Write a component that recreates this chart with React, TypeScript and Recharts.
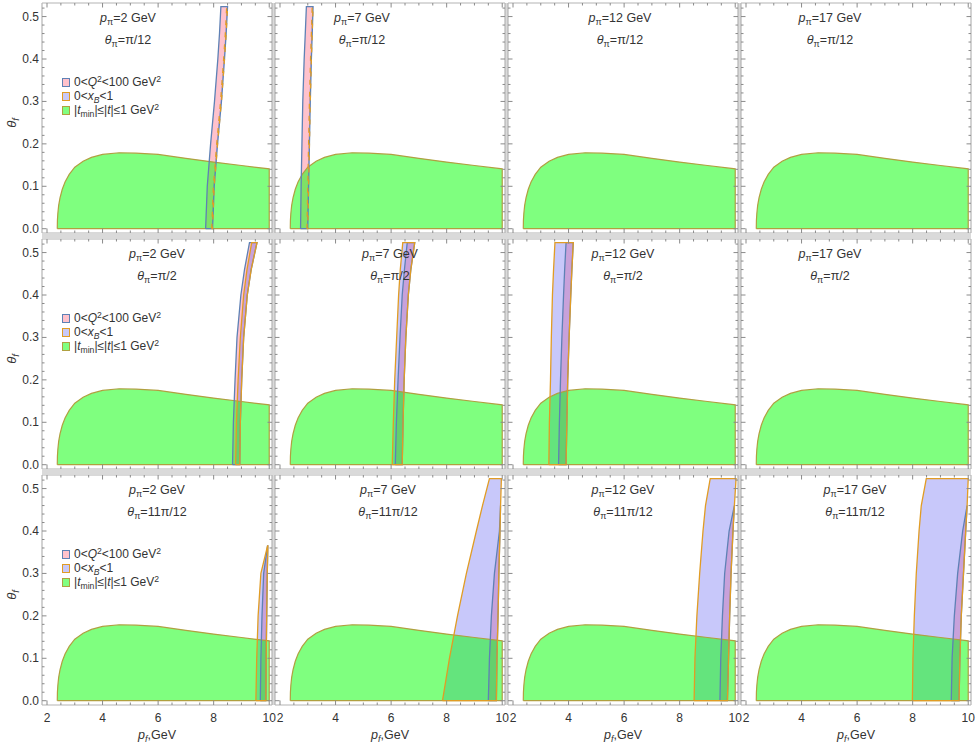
import React from "react";
import { ComposedChart, Area, Line, XAxis, YAxis } from "recharts";

// panel parameters (columns: pion momentum, rows: pion angle)
const P_PI = ["2", "7", "12", "17"];
const THETA_PI = ["π/12", "π/2", "11π/12"];

// |t_min| ≤ |t| ≤ 1 GeV²: upper edge θ_f vs p_f, the same in every panel
const greenP = [2.37, 2.375, 2.39, 2.42, 2.47, 2.55, 2.65, 2.8, 3.0, 3.3, 3.6, 4.0, 4.6, 5.2, 6.0, 7.0, 8.0, 9.0, 10, 10];
const greenTop = [0, 0.02, 0.036, 0.055, 0.073, 0.093, 0.11, 0.128, 0.145, 0.159, 0.168, 0.175, 0.179, 0.178, 0.175, 0.166, 0.157, 0.149, 0.141, 0];

// θ_f samples of the band edges
const bandTh = [0, 0.1, 0.2, 0.3, 0.4, 0.46, 0.5236];
const bandThShort = [0, 0.1, 0.2, 0.3, 0.365];
const bandThOf: Record<string, number[]> = { "2-0": bandThShort };

// right edge shared by both bands (p_f in GeV), key "row-col"
const bandHi: Record<string, number[]> = {
  "0-0": [7.96, 8.02, 8.14, 8.28, 8.39, 8.45, 8.5],
  "0-1": [3.0, 3.03, 3.06, 3.09, 3.13, 3.16, 3.19],
  "1-0": [8.94, 8.96, 9.01, 9.08, 9.21, 9.35, 9.56],
  "1-1": [6.4, 6.43, 6.47, 6.53, 6.62, 6.71, 6.85],
  "1-2": [3.91, 3.94, 3.97, 4.02, 4.08, 4.12, 4.17],
  "2-0": [9.88, 9.89, 9.91, 9.93, 9.95],
  "2-1": [9.79, 9.81, 9.85, 9.88, 9.92, 9.94, 9.97],
  "2-2": [9.72, 9.76, 9.8, 9.85, 9.92, 9.97, 10.03],
  "2-3": [9.67, 9.7, 9.75, 9.83, 9.91, 9.96, 10.0],
};

// left edge of 0 < x_B < 1
const xbLo: Record<string, number[]> = {
  "0-0": [7.93, 7.99, 8.11, 8.25, 8.36, 8.42, 8.47],
  "0-1": [2.97, 3.0, 3.03, 3.06, 3.1, 3.13, 3.16],
  "1-0": [8.79, 8.82, 8.88, 8.96, 9.08, 9.2, 9.37],
  "1-1": [6.04, 6.08, 6.13, 6.2, 6.27, 6.33, 6.42],
  "1-2": [3.29, 3.31, 3.35, 3.38, 3.42, 3.46, 3.51],
  "2-0": [9.52, 9.55, 9.6, 9.7, 9.94],
  "2-1": [7.85, 8.1, 8.39, 8.71, 9.07, 9.29, 9.54],
  "2-2": [8.52, 8.55, 8.62, 8.72, 8.84, 8.93, 9.1],
  "2-3": [7.99, 8.01, 8.06, 8.13, 8.23, 8.31, 8.49],
};

// left edge of 0 < Q² < 100 GeV² (null once the band has closed)
const q2Lo: Record<string, (number | null)[]> = {
  "0-0": [7.71, 7.77, 7.89, 8.03, 8.15, 8.21, 8.26],
  "0-1": [2.74, 2.76, 2.79, 2.82, 2.87, 2.91, 2.95],
  "1-0": [8.68, 8.71, 8.77, 8.84, 8.98, 9.11, 9.29],
  "1-1": [6.15, 6.19, 6.25, 6.32, 6.4, 6.48, 6.58],
  "1-2": [3.64, 3.67, 3.71, 3.76, 3.82, 3.86, 3.91],
  "2-0": [9.68, 9.7, 9.74, 9.8, 9.94],
  "2-1": [9.5, 9.54, 9.61, 9.72, 9.9, 9.94, null],
  "2-2": [9.45, 9.48, 9.54, 9.62, 9.78, 9.97, null],
  "2-3": [9.39, 9.42, 9.5, 9.62, 9.8, 9.96, null],
};

const X_MAJOR = [2, 4, 6, 8, 10];
const Y_MAJOR = [0, 0.1, 0.2, 0.3, 0.4, 0.5];
const xTicks = Array.from({ length: 17 }, (_, i) => 2 + i * 0.5);
const yTicks = Array.from({ length: 27 }, (_, i) => +(i * 0.02).toFixed(2));

// title centre offsets inside each frame (px)
const TITLE_X = [
  [86, 87, 112, 89],
  [115, 115, 115, 89],
  [115, 113, 115, 114],
];

const FRAME = 230;
const COL_X = [42, 275, 508, 741];
const ROW_Y = [3, 239, 475];
const MARGIN = { top: 6, right: 6, bottom: 38, left: 40 };
// the axes of the top layer take 1px each, so its margins are 1px smaller
const MARGIN_AX = { top: 5, right: 5, bottom: 37, left: 39 };
const X_DOMAIN: [number, number] = [1.82, 10.1];
const Y_DOMAIN: [number, number] = [-0.0101, 0.532];

const FONT = '"Liberation Sans", Arial, sans-serif';
const TEXT = "#333";
const AXIS = "#b4b4b4";
const TICK = "#8a8a8a";
const GAP = "#dadada";
const Q2_FILL = "#ffc2cc";
const Q2_LINE = "#5e81b5";
const XB_FILL = "#6a6af2";
const XB_LINE = "#e19c24";
const T_FILL = "#00ff00";
const T_LINE = "#b0a040";

const greenRows = greenP.map((p, i) => ({ p, th: [0, greenTop[i]] }));

function tickFor(side: string, labels: boolean) {
  return (props: any) => {
    const { x, y, payload } = props;
    const v = payload.value as number;
    const horiz = side === "bottom" || side === "top";
    const major = horiz ? X_MAJOR.includes(v) : Y_MAJOR.some((m) => Math.abs(m - v) < 1e-9);
    const len = major ? 4.5 : 2.5;
    let x2 = x;
    let y2 = y;
    if (side === "bottom") y2 = y - len;
    if (side === "top") y2 = y + len;
    if (side === "left") x2 = x + len;
    if (side === "right") x2 = x - len;
    return (
      <g>
        <line x1={x} y1={y} x2={x2} y2={y2} stroke={TICK} strokeWidth={1} />
        {labels && major && side === "bottom" && (
          <text x={x} y={y + 17} textAnchor="middle" fontSize={12} fill={TEXT} fontFamily={FONT}>
            {v}
          </text>
        )}
        {labels && major && side === "left" && (
          <text x={x - 3} y={y + 4} textAnchor="end" fontSize={12} fill={TEXT} fontFamily={FONT}>
            {v.toFixed(1)}
          </text>
        )}
      </g>
    );
  };
}

function outline(th: number[], lo: (number | null)[], hi: number[]) {
  const idx = th.map((_, i) => i).filter((i) => lo[i] != null);
  const left = idx.map((i) => ({ p: lo[i] as number, th: th[i] }));
  const right = idx.map((i) => ({ p: hi[i], th: th[i] })).reverse();
  return [...left, ...right, left[0]];
}

function Panel({ r, c }: { r: number; c: number }) {
  const key = `${r}-${c}`;
  const hi = bandHi[key];
  const th = bandThOf[key] ?? bandTh;
  const W = FRAME + MARGIN.left + MARGIN.right;
  const H = FRAME + MARGIN.top + MARGIN.bottom;
  const xbRows = hi ? th.map((t, i) => ({ th: t, v: [xbLo[key][i], hi[i]] })) : [];
  const q2Rows = hi
    ? th.flatMap((t, i) => (q2Lo[key][i] == null ? [] : [{ th: t, v: [q2Lo[key][i], hi[i]] }]))
    : [];
  const q2Edge = hi ? outline(th, q2Lo[key], hi) : [];
  const xbEdge = hi ? outline(th, xbLo[key], hi) : [];
  const layer: React.CSSProperties = { position: "absolute", left: 0, top: 0 };
  const axisCommon = {
    type: "number" as const,
    allowDataOverflow: true,
    interval: 0 as const,
    tickSize: 0,
    tickMargin: 0,
    tickLine: false,
    axisLine: { stroke: AXIS, strokeWidth: 1.2 },
  };
  return (
    <div style={{ position: "absolute", left: COL_X[c] - MARGIN.left, top: ROW_Y[r] - MARGIN.top, width: W, height: H }}>
      <div style={layer}>
        <ComposedChart layout="vertical" width={W} height={H} margin={MARGIN}>
          <XAxis type="number" domain={X_DOMAIN} allowDataOverflow hide />
          <YAxis type="number" dataKey="th" domain={Y_DOMAIN} allowDataOverflow reversed hide />
          <Area data={q2Rows} dataKey="v" type="linear" fill={Q2_FILL} fillOpacity={1} stroke="none" isAnimationActive={false} />
          <Area data={xbRows} dataKey="v" type="linear" fill={XB_FILL} fillOpacity={0.37} stroke="none" isAnimationActive={false} />
        </ComposedChart>
      </div>
      <div style={layer}>
        <ComposedChart width={W} height={H} margin={MARGIN_AX}>
          <XAxis {...axisCommon} dataKey="p" domain={X_DOMAIN} ticks={xTicks} height={1} tick={tickFor("bottom", r === 2)} />
          <XAxis {...axisCommon} xAxisId="top" orientation="top" dataKey="p" domain={X_DOMAIN} ticks={xTicks} height={1} tick={tickFor("top", false)} />
          <YAxis {...axisCommon} domain={Y_DOMAIN} ticks={yTicks} width={1} tick={tickFor("left", c === 0)} />
          <YAxis {...axisCommon} yAxisId="right" orientation="right" domain={Y_DOMAIN} ticks={yTicks} width={1} tick={tickFor("right", false)} />
          <Area data={greenRows} dataKey="th" type="linear" fill={T_FILL} fillOpacity={0.5} stroke={T_LINE} strokeWidth={1.2} isAnimationActive={false} />
          {hi && (
            <Line data={q2Edge} dataKey="th" type="linear" stroke={Q2_LINE} strokeWidth={1.3} dot={false} isAnimationActive={false} />
          )}
          {hi && (
            <Line data={xbEdge} dataKey="th" type="linear" stroke={XB_LINE} strokeWidth={1.3} dot={false}
              strokeDasharray={r === 0 ? "5 7" : undefined} isAnimationActive={false} />
          )}
        </ComposedChart>
      </div>
    </div>
  );
}

const sub: React.CSSProperties = { fontSize: "0.72em", verticalAlign: "-0.3em", lineHeight: 0 };
const sup: React.CSSProperties = { fontSize: "0.72em", verticalAlign: "0.45em", lineHeight: 0 };

function Titles({ r, c }: { r: number; c: number }) {
  const cx = COL_X[c] + TITLE_X[r][c];
  const base: React.CSSProperties = { position: "absolute", left: cx, transform: "translate(-50%, -50%)", whiteSpace: "nowrap", fontSize: 12.5, lineHeight: "14px", color: TEXT };
  return (
    <>
      <div style={{ ...base, top: ROW_Y[r] + 15 }}>
        <i>p</i><span style={sub}>π</span>={P_PI[c]} GeV
      </div>
      <div style={{ ...base, top: ROW_Y[r] + 37 }}>
        <i>θ</i><span style={sub}>π</span>={THETA_PI[r]}
      </div>
    </>
  );
}

function LegendBox({ r }: { r: number }) {
  const items = [
    { fill: Q2_FILL, stroke: Q2_LINE, label: <>0&lt;<i>Q</i><span style={sup}>2</span>&lt;100 GeV<span style={sup}>2</span></> },
    { fill: "#c9c9f7", stroke: XB_LINE, label: <>0&lt;<i>x</i><span style={sub}><i>B</i></span>&lt;1</> },
    { fill: "#80ff80", stroke: T_LINE, label: <>|<i>t</i><span style={sub}>min</span>|≤|<i>t</i>|≤1 GeV<span style={sup}>2</span></> },
  ];
  return (
    <>
      {items.map((it, i) => (
        <div key={i} style={{ position: "absolute", left: COL_X[0] + 20, top: ROW_Y[r] + 79 + i * 14, transform: "translateY(-50%)", display: "flex", alignItems: "center", whiteSpace: "nowrap", fontSize: 12, lineHeight: "14px", color: TEXT }}>
          <span style={{ display: "inline-block", width: 6, height: 7, background: it.fill, border: `1px solid ${it.stroke}`, marginRight: 4 }} />
          <span>{it.label}</span>
        </div>
      ))}
    </>
  );
}

export default function App() {
  const rows = [0, 1, 2];
  const cols = [0, 1, 2, 3];
  return (
    <div style={{ position: "absolute", left: 0, top: 0, width: 976, height: 744, background: "#fff", fontFamily: FONT, overflow: "hidden" }}>
      {/* light grey seams between the grid cells */}
      {cols.slice(1).map((c) => (
        <div key={`gv${c}`} style={{ position: "absolute", left: COL_X[c] - 3, top: ROW_Y[0], width: 3, height: ROW_Y[2] + FRAME - ROW_Y[0], background: GAP }} />
      ))}
      {rows.slice(1).map((r) => (
        <div key={`gh${r}`} style={{ position: "absolute", left: COL_X[0], top: ROW_Y[r] - 5, width: COL_X[3] + FRAME - COL_X[0], height: 4, background: GAP }} />
      ))}
      {rows.map((r) => cols.map((c) => <Panel key={`${r}-${c}`} r={r} c={c} />))}
      {rows.map((r) => cols.map((c) => <Titles key={`t${r}-${c}`} r={r} c={c} />))}
      {rows.map((r) => <LegendBox key={`l${r}`} r={r} />)}
      {rows.map((r) => (
        <div key={`y${r}`} style={{ position: "absolute", left: 12, top: ROW_Y[r] + 120, transform: "translate(-50%, -50%) rotate(-90deg)", fontSize: 13, lineHeight: "14px", color: TEXT, whiteSpace: "nowrap" }}>
          <i>θ</i><span style={sub}><i>f</i></span>
        </div>
      ))}
      {cols.map((c) => (
        <div key={`x${c}`} style={{ position: "absolute", left: COL_X[c] + FRAME / 2, top: 735, transform: "translate(-50%, -50%)", fontSize: 12.5, lineHeight: "14px", color: TEXT, whiteSpace: "nowrap" }}>
          <i>p</i><span style={sub}><i>f</i></span>,GeV
        </div>
      ))}
    </div>
  );
}
